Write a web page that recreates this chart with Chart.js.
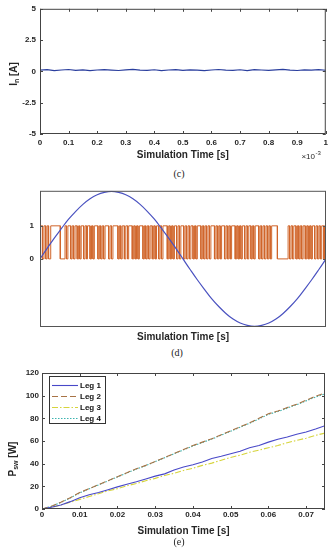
<!DOCTYPE html>
<html>
<head>
<meta charset="utf-8">
<script src="https://cdn.jsdelivr.net/npm/chart.js@4.4.0/dist/chart.umd.min.js"></script>
<style>
  body { margin:0; background:#fff; width:332px; height:550px; position:relative; overflow:hidden; }
  canvas { position:absolute; left:0; }
  .cap { position:absolute; width:332px; text-align:center; font-family:"Liberation Serif", serif; font-size:10px; line-height:12px; color:#222; }
</style>
</head>
<body>
<canvas id="chartC" width="332" height="164" style="top:0"></canvas>
<div class="cap" style="top:168px;left:13px">(c)</div>
<canvas id="chartD" width="332" height="164" style="top:180px"></canvas>
<div class="cap" style="top:347px;left:11px">(d)</div>
<canvas id="chartE" width="332" height="178" style="top:360px"></canvas>
<div class="cap" style="top:536px;left:13px">(e)</div>
<script>
// (c) neutral current, time in ms (axis shows x10^-3 s)
var timeC = [0,0.025,0.05,0.075,0.1,0.125,0.15,0.175,0.2,0.225,0.25,0.275,0.3,0.325,0.35,0.375,0.4,0.425,0.45,0.475,0.5,
             0.525,0.55,0.575,0.6,0.625,0.65,0.675,0.7,0.725,0.75,0.775,0.8,0.825,0.85,0.875,0.9,0.925,0.95,0.975,1];
var currentN = [0.10,0.14,0.07,0.11,0.15,0.08,0.12,0.06,0.11,0.14,0.10,0.07,0.12,0.16,0.10,0.08,0.13,0.07,0.11,0.14,0.08,
                0.12,0.10,0.06,0.11,0.15,0.10,0.08,0.13,0.07,0.14,0.11,0.08,0.12,0.16,0.10,0.07,0.12,0.10,0.14,0.09];
var ticksC = [0,0.1,0.2,0.3,0.4,0.5,0.6,0.7,0.8,0.9,1];

// (d) reference sine and switching signal, time in ms
var timeD = [0,0.5,1,1.5,2,2.5,3,3.5,4,4.5,5,5.5,6,6.5,7,7.5,8,8.5,9,9.5,10,
             10.5,11,11.5,12,12.5,13,13.5,14,14.5,15,15.5,16,16.5,17,17.5,18,18.5,19,19.5,20];
var sineD = [0,0.32,0.63,0.92,1.20,1.44,1.65,1.82,1.94,2.01,2.04,2.01,1.94,1.82,1.65,1.44,1.20,0.92,0.63,0.32,0,
             -0.32,-0.63,-0.92,-1.20,-1.44,-1.65,-1.82,-1.94,-2.01,-2.04,-2.01,-1.94,-1.82,-1.65,-1.44,-1.20,-0.92,-0.63,-0.32,0];
var pwmRise = [0.05,0.28,0.5,0.75,1.75,1.95,2.25,2.45,2.7,2.88,3.15,3.32,3.6,3.8,4.15,4.35,4.55,4.9,5.1,5.55,5.75,6.0,6.2,6.55,6.75,6.95,
               7.3,7.5,7.7,7.95,8.15,8.4,8.6,9.0,9.2,9.4,9.65,9.85,10.15,10.35,10.55,10.8,11.0,11.35,11.55,11.75,11.95,12.3,12.5,12.7,
               13.0,13.2,13.4,13.75,13.95,14.15,14.4,14.6,14.85,15.05,15.4,15.6,15.8,16.0,16.2,17.35,17.55,17.75,18.0,18.2,18.4,18.65,
               18.85,19.05,19.3,19.5,19.7,19.9];
var pwmFall = [0.18,0.4,0.6,1.42,1.85,2.15,2.35,2.6,2.78,3.05,3.25,3.5,3.7,4.05,4.25,4.45,4.8,5.0,5.45,5.65,5.9,6.12,6.45,6.65,6.85,7.2,
               7.4,7.6,7.85,8.05,8.3,8.5,8.9,9.1,9.3,9.55,9.75,10.05,10.25,10.45,10.7,10.9,11.25,11.45,11.65,11.85,12.2,12.4,12.6,12.9,
               13.1,13.3,13.65,13.85,14.05,14.3,14.5,14.75,14.95,15.3,15.5,15.7,15.9,16.1,16.6,17.45,17.65,17.9,18.1,18.3,18.55,18.75,
               18.95,19.2,19.4,19.6,19.85,20];
var ticksD = [0,1];

// (e) switching losses per leg
var timeE = [0,0.0025,0.005,0.0075,0.01,0.0125,0.015,0.0175,0.02,0.0225,0.025,0.0275,0.03,0.0325,0.035,0.0375,
             0.04,0.0425,0.045,0.0475,0.05,0.0525,0.055,0.0575,0.06,0.0625,0.065,0.0675,0.07,0.0725,0.075];
var leg1 = [0,1.5,3.5,6.5,10.0,12.5,14.5,17.0,19.5,21.8,24.0,26.5,29.0,31.0,34.5,37.0,39.0,41.5,44.5,46.5,48.8,51.0,54.0,
            56.0,59.0,61.5,63.5,66.0,68.0,70.5,73.5];
var leg2 = [0,2.5,6.0,10.0,14.5,18.0,21.5,25.0,28.5,32.0,35.5,38.5,42.0,45.5,49.0,52.5,56.0,59.0,62.0,65.5,69.0,72.5,76.0,
            80.0,84.0,86.5,89.5,92.5,96.0,99.5,102.5];
var leg3 = [0,1.5,3.5,6.0,8.5,11.0,13.5,16.0,18.0,20.5,22.5,25.0,27.0,29.5,31.5,34.0,36.0,38.5,40.5,43.0,45.5,47.5,50.0,
            52.0,54.0,56.0,58.5,60.5,62.5,65.0,67.0];
var leg4 = [0,2.3,5.8,9.8,14.2,17.8,21.3,24.8,28.3,31.8,35.2,38.3,41.8,45.2,48.7,52.2,55.6,58.7,61.7,65.2,68.6,72.1,75.6,
            79.5,83.5,86.0,89.0,92.0,95.4,98.8,101.5];
var legNames = ['Leg 1', 'Leg 2', 'Leg 3', 'Leg 4'];

var FONT = '"Liberation Sans", Arial, sans-serif';
var TXT = '#262626';

function pts(xs, ys) {
  return xs.map(function (x, i) { return { x: x, y: ys[i] }; });
}

// frame around the plot area with inward tick marks
var boxPlugin = {
  id: 'box',
  afterDatasetsDraw: function (chart, args, o) {
    var a = chart.chartArea, ctx = chart.ctx, len = 3;
    ctx.save();
    ctx.strokeStyle = o.color || '#444';
    ctx.lineWidth = 1;
    ctx.strokeRect(a.left + 0.5, a.top + 0.5, a.right - a.left - 1, a.bottom - a.top - 1);
    ctx.beginPath();
    if (o.xTicks) {
      o.xTicks.forEach(function (v) {
        var p = Math.round(chart.scales.x.getPixelForValue(v)) + 0.5;
        ctx.moveTo(p, a.bottom); ctx.lineTo(p, a.bottom - len);
        ctx.moveTo(p, a.top); ctx.lineTo(p, a.top + len);
      });
    }
    if (o.yTicks) {
      o.yTicks.forEach(function (v) {
        var p = Math.round(chart.scales.y.getPixelForValue(v)) + 0.5;
        ctx.moveTo(a.left, p); ctx.lineTo(a.left + len, p);
        ctx.moveTo(a.right, p); ctx.lineTo(a.right - len, p);
      });
    }
    ctx.stroke();
    ctx.restore();
  }
};

// rotated y label with subscript
var yLabel = {
  id: 'yLabel',
  afterDraw: function (chart, args, o) {
    if (!o.parts) return;
    var ctx = chart.ctx;
    ctx.save();
    ctx.fillStyle = TXT;
    ctx.textBaseline = 'alphabetic';
    var big = 'bold 10px ' + FONT, small = 'bold 7px ' + FONT;
    var w = 0;
    o.parts.forEach(function (p) { ctx.font = p.sub ? small : big; w += ctx.measureText(p.t).width; });
    ctx.translate(o.x, o.y);
    ctx.rotate(-Math.PI / 2);
    var cx = -w / 2;
    o.parts.forEach(function (p) {
      ctx.font = p.sub ? small : big;
      ctx.fillText(p.t, cx, p.sub ? 6 : 3.5);
      cx += ctx.measureText(p.t).width;
    });
    ctx.restore();
  }
};

// x10^-3 multiplier under the x axis
var expLabel = {
  id: 'expLabel',
  afterDraw: function (chart, args, o) {
    if (!o.show) return;
    var ctx = chart.ctx;
    ctx.save();
    ctx.fillStyle = TXT;
    ctx.textBaseline = 'middle';
    ctx.textAlign = 'right';
    ctx.font = '8px ' + FONT;
    ctx.fillText('\u00d710', o.x, o.y);
    ctx.textAlign = 'left';
    ctx.font = '6px ' + FONT;
    ctx.fillText('-3', o.x + 0.5, o.y - 4);
    ctx.restore();
  }
};

// legend box inside the plot (top-left)
var legendBox = {
  id: 'legendBox',
  afterDatasetsDraw: function (chart, args, o) {
    if (!o.show) return;
    var ctx = chart.ctx;
    ctx.save();
    ctx.fillStyle = '#fff';
    ctx.fillRect(o.x, o.y, o.w, o.h);
    ctx.strokeStyle = '#333';
    ctx.lineWidth = 1;
    ctx.strokeRect(o.x + 0.5, o.y + 0.5, o.w, o.h);
    ctx.font = 'bold 8px ' + FONT;
    ctx.textBaseline = 'middle';
    chart.data.datasets.forEach(function (ds, i) {
      var y = o.y + o.first + i * o.step + 0.5;
      ctx.strokeStyle = ds.borderColor;
      ctx.lineWidth = ds.borderWidth;
      ctx.setLineDash(ds.borderDash || []);
      ctx.beginPath();
      ctx.moveTo(o.x + 3, y);
      ctx.lineTo(o.x + 29, y);
      ctx.stroke();
      ctx.setLineDash([]);
      ctx.fillStyle = '#111';
      ctx.fillText(ds.label, o.x + 31, y);
    });
    ctx.restore();
  }
};

Chart.register(boxPlugin, yLabel, expLabel, legendBox);
Chart.defaults.font.family = FONT;
Chart.defaults.color = TXT;
Chart.defaults.animation = false;

function tickFont(size) { return { size: size, weight: 'bold' }; }
var noGrid = { display: false, drawTicks: false };

// ---- (c) ----
new Chart(document.getElementById('chartC'), {
  type: 'line',
  data: {
    datasets: [{
      data: pts(timeC, currentN),
      borderColor: '#2b3f9e',
      borderWidth: 1.2,
      pointRadius: 0,
      tension: 0
    }]
  },
  options: {
    responsive: false,
    layout: { padding: { top: 5, right: 5, left: 0, bottom: 0 } },
    plugins: {
      legend: { display: false },
      tooltip: { enabled: false },
      box: { xTicks: ticksC, yTicks: [-5, -2.5, 0, 2.5, 5] },
      yLabel: { x: 13, y: 74, parts: [{ t: 'I' }, { t: 'n', sub: true }, { t: ' [A]' }] },
      expLabel: { show: true, x: 315, y: 157 },
      legendBox: { show: false }
    },
    scales: {
      x: {
        type: 'linear', min: 0, max: 1,
        afterBuildTicks: function (s) { s.ticks = ticksC.map(function (v) { return { value: v }; }); },
        afterFit: function (s) { s.height = 30; },
        grid: noGrid, border: { display: false },
        ticks: { font: tickFont(8), padding: 4, maxRotation: 0, autoSkip: false,
                 callback: function (v) { return String(v); } },
        title: { display: true, text: 'Simulation Time [s]', font: { size: 10, weight: 'bold' }, padding: { top: 0, bottom: 3 } }
      },
      y: {
        min: -5, max: 5,
        afterBuildTicks: function (s) { s.ticks = [5, 2.5, 0, -2.5, -5].map(function (v) { return { value: v }; }); },
        afterFit: function (s) { s.width = 40; },
        grid: noGrid, border: { display: false },
        ticks: { font: tickFont(8), padding: 4, callback: function (v) { return String(v); } }
      }
    }
  }
});

// ---- (d) ----
var pwmPts = [{ x: 0, y: 0 }];
pwmRise.forEach(function (r, i) {
  pwmPts.push({ x: r, y: 0 }, { x: r, y: 1 }, { x: pwmFall[i], y: 1 }, { x: pwmFall[i], y: 0 });
});

new Chart(document.getElementById('chartD'), {
  type: 'line',
  data: {
    datasets: [{
      data: pts(timeD, sineD),
      borderColor: '#4a52c0',
      borderWidth: 1.2,
      pointRadius: 0,
      tension: 0.4
    }, {
      data: pwmPts,
      borderColor: '#d0652a',
      borderWidth: 1,
      pointRadius: 0,
      tension: 0
    }]
  },
  options: {
    responsive: false,
    layout: { padding: { top: 7, right: 6, left: 0, bottom: 0 } },
    plugins: {
      legend: { display: false },
      tooltip: { enabled: false },
      box: { color: '#555', yTicks: ticksD },
      yLabel: {},
      expLabel: { show: false },
      legendBox: { show: false }
    },
    scales: {
      x: {
        type: 'linear', min: 0, max: 20,
        afterFit: function (s) { s.height = 17; },
        grid: noGrid, border: { display: false },
        ticks: { display: false },
        title: { display: true, text: 'Simulation Time [s]', font: { size: 10, weight: 'bold' }, padding: { top: 0, bottom: 1 } }
      },
      y: {
        min: -2.06, max: 2.06,
        afterBuildTicks: function (s) { s.ticks = ticksD.map(function (v) { return { value: v }; }); },
        afterFit: function (s) { s.width = 40; },
        grid: noGrid, border: { display: false },
        ticks: { font: tickFont(8), padding: 6 }
      }
    }
  }
});

// ---- (e) ----
var ticksEx = [0, 0.01, 0.02, 0.03, 0.04, 0.05, 0.06, 0.07];
var ticksEy = [0, 20, 40, 60, 80, 100, 120];

new Chart(document.getElementById('chartE'), {
  type: 'line',
  data: {
    datasets: [
      { label: legNames[0], data: pts(timeE, leg1), borderColor: '#4848c8', borderWidth: 1.1, pointRadius: 0, tension: 0 },
      { label: legNames[1], data: pts(timeE, leg2), borderColor: '#a87345', borderWidth: 1.1, borderDash: [6, 3], pointRadius: 0, tension: 0 },
      { label: legNames[2], data: pts(timeE, leg3), borderColor: '#d6d43c', borderWidth: 1.1, borderDash: [6, 2, 1.5, 2], pointRadius: 0, tension: 0 },
      { label: legNames[3], data: pts(timeE, leg4), borderColor: '#3cb4b0', borderWidth: 1.1, borderDash: [1.5, 1.5], pointRadius: 0, tension: 0 }
    ]
  },
  options: {
    responsive: false,
    layout: { padding: { top: 13, right: 7, left: 0, bottom: 0 } },
    plugins: {
      legend: { display: false },
      tooltip: { enabled: false },
      box: { xTicks: ticksEx, yTicks: ticksEy },
      yLabel: { x: 12, y: 99, parts: [{ t: 'P' }, { t: 'sw', sub: true }, { t: ' [W]' }] },
      expLabel: { show: false },
      legendBox: { show: true, x: 49, y: 16, w: 56, h: 47, first: 9, step: 11 }
    },
    scales: {
      x: {
        type: 'linear', min: 0, max: 0.075,
        afterBuildTicks: function (s) { s.ticks = ticksEx.map(function (v) { return { value: v }; }); },
        afterFit: function (s) { s.height = 29; },
        grid: noGrid, border: { display: false },
        ticks: { font: tickFont(8), padding: 1, maxRotation: 0, autoSkip: false,
                 callback: function (v) { return String(v); } },
        title: { display: true, text: 'Simulation Time [s]', font: { size: 10, weight: 'bold' }, padding: { top: 0, bottom: 1 } }
      },
      y: {
        min: 0, max: 120,
        afterBuildTicks: function (s) { s.ticks = ticksEy.map(function (v) { return { value: v }; }); },
        afterFit: function (s) { s.width = 42; },
        grid: noGrid, border: { display: false },
        ticks: { font: tickFont(8), padding: 3 }
      }
    }
  }
});
</script>
</body>
</html>
